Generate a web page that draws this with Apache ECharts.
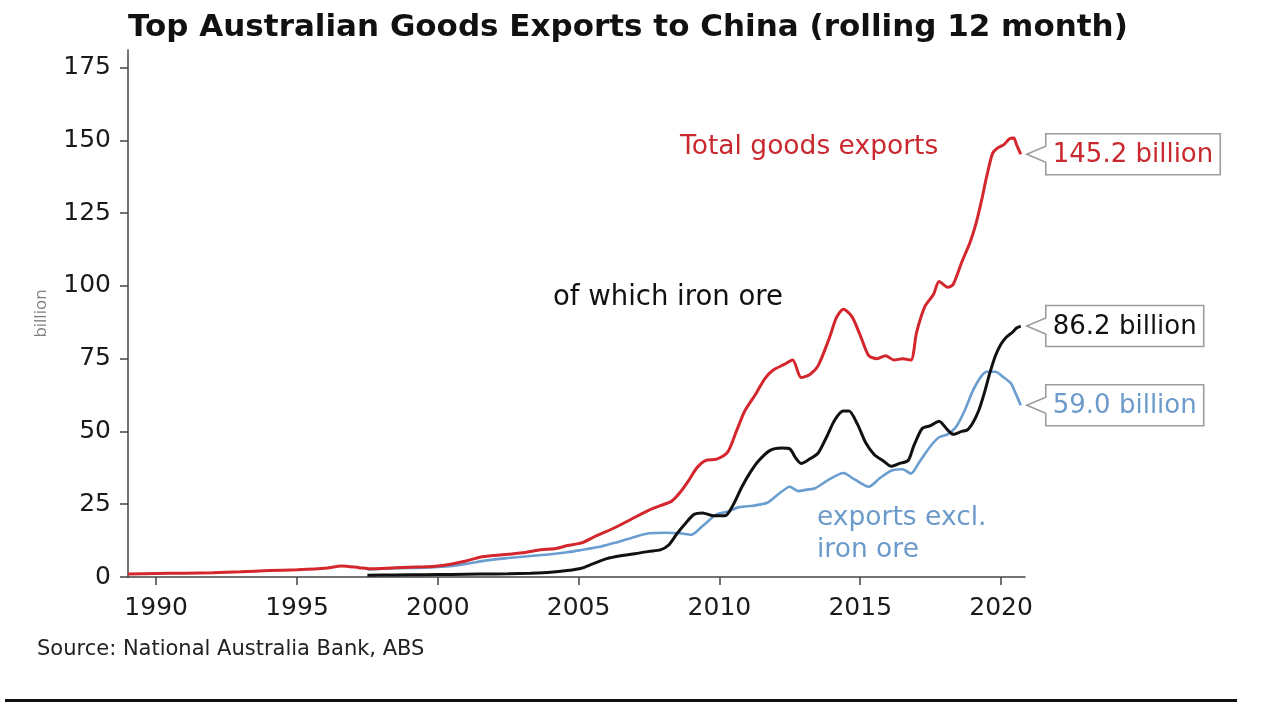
<!DOCTYPE html>
<html><head><meta charset="utf-8">
<script src="https://cdn.jsdelivr.net/npm/echarts@6/dist/echarts.min.js"></script>
<style>html,body{margin:0;padding:0;background:#fff}#c{width:1280px;height:720px}</style>
</head><body><div id="c"></div>
<script>
const titleText = 'Top Australian Goods Exports to China (rolling 12 month)';
const sourceText = 'Source: National Australia Bank, ABS';
const yTicks = [0, 25, 50, 75, 100, 125, 150, 175];
const xTicks = [1990, 1995, 2000, 2005, 2010, 2015, 2020];

const totalExports = [[1989.0,1.0],[1990.0,1.2],[1991.0,1.3],[1992.0,1.5],[1993.0,1.8],[1994.0,2.2],[1995.0,2.5],[1996.0,3.0],[1996.6,3.8],[1997.2,3.2],[1997.6,2.8],[1998.5,3.2],[1999.5,3.5],[2000.0,3.8],[2000.5,4.5],[2001.0,5.5],[2001.5,6.8],[2002.0,7.4],[2002.5,7.8],[2003.0,8.3],[2003.6,9.3],[2004.2,9.8],[2004.6,10.8],[2005.1,11.7],[2005.6,14.0],[2006.3,17.0],[2006.9,20.0],[2007.5,23.0],[2007.9,24.5],[2008.3,26.0],[2008.6,29.0],[2008.9,33.0],[2009.2,37.5],[2009.5,40.0],[2009.9,40.5],[2010.3,43.0],[2010.6,50.0],[2010.9,57.0],[2011.3,63.0],[2011.6,68.0],[2011.9,71.0],[2012.3,73.0],[2012.6,74.5],[2012.9,68.5],[2013.2,69.5],[2013.5,72.5],[2013.9,82.0],[2014.15,89.0],[2014.4,92.0],[2014.7,89.5],[2015.0,83.0],[2015.3,76.0],[2015.6,75.0],[2015.9,76.0],[2016.2,74.5],[2016.5,75.0],[2016.8,74.5],[2017.0,84.0],[2017.3,93.0],[2017.6,97.0],[2017.8,101.5],[2018.1,99.5],[2018.3,100.5],[2018.6,108.0],[2018.9,115.0],[2019.1,121.0],[2019.3,129.0],[2019.5,138.0],[2019.7,145.5],[2019.9,147.5],[2020.1,148.5],[2020.3,150.5],[2020.45,150.8],[2020.55,148.5],[2020.7,145.2]];

const ironOre = [[1997.5,0.6],[1998.5,0.7],[1999.5,0.8],[2000.5,0.9],[2001.5,1.0],[2002.5,1.1],[2003.3,1.3],[2004.0,1.6],[2004.6,2.2],[2005.1,3.0],[2005.5,4.5],[2006.0,6.3],[2006.5,7.3],[2007.0,8.0],[2007.5,8.8],[2007.9,9.3],[2008.2,11.0],[2008.5,15.0],[2008.8,18.5],[2009.1,21.5],[2009.4,22.0],[2009.8,21.0],[2010.2,21.0],[2010.5,25.0],[2010.8,31.0],[2011.1,36.0],[2011.4,40.0],[2011.8,43.5],[2012.2,44.3],[2012.5,44.0],[2012.7,41.0],[2012.9,39.0],[2013.2,40.5],[2013.5,42.5],[2013.8,48.0],[2014.1,54.0],[2014.4,57.0],[2014.6,57.0],[2014.9,52.5],[2015.2,46.0],[2015.5,42.0],[2015.8,40.0],[2016.1,38.0],[2016.4,39.0],[2016.7,40.0],[2016.9,45.0],[2017.2,51.0],[2017.5,52.0],[2017.8,53.5],[2018.1,50.5],[2018.3,49.0],[2018.6,50.0],[2018.8,50.5],[2019.0,53.0],[2019.2,57.0],[2019.4,63.0],[2019.6,70.0],[2019.8,76.0],[2020.0,80.0],[2020.2,82.5],[2020.4,84.0],[2020.55,85.5],[2020.7,86.2]];

const exclIronOre = [[1997.5,2.6],[1998.5,3.0],[1999.5,3.2],[2000.3,3.6],[2001.0,4.5],[2001.8,5.8],[2002.5,6.5],[2003.3,7.2],[2004.0,7.8],[2004.6,8.5],[2005.1,9.3],[2005.8,10.5],[2006.3,11.8],[2006.9,13.5],[2007.5,15.0],[2008.1,15.2],[2008.6,15.0],[2009.0,14.5],[2009.4,17.5],[2009.9,21.5],[2010.3,22.5],[2010.7,24.0],[2011.2,24.5],[2011.7,25.5],[2012.1,28.5],[2012.5,31.0],[2012.8,29.5],[2013.1,30.0],[2013.4,30.5],[2013.9,33.5],[2014.4,35.7],[2014.8,33.5],[2015.3,31.0],[2015.7,34.0],[2016.1,36.5],[2016.5,37.0],[2016.8,35.5],[2017.1,39.5],[2017.5,45.0],[2017.8,48.0],[2018.1,49.0],[2018.4,51.5],[2018.7,57.0],[2019.0,64.0],[2019.3,69.0],[2019.5,70.5],[2019.8,70.5],[2020.1,68.5],[2020.35,66.5],[2020.5,63.5],[2020.7,59.0]];

const seriesNames = ['Total goods exports', 'of which iron ore', 'exports excl.\niron ore'];
const endLabels = ['145.2 billion', '86.2 billion', '59.0 billion'];

const RED = '#d3262d', BLACK = '#111111', BLUE = '#6a9dd0';
const TXT_RED = '#c9282f', TXT_BLUE = '#6c9bcb';
const FONT = '"DejaVu Sans", sans-serif';

const chart = echarts.init(document.getElementById('c'), null, {renderer: 'canvas'});

const option = {
  backgroundColor: '#ffffff',
  animation: false,
  grid: {left: 128, right: 255, top: 50, bottom: 143},
  xAxis: {
    type: 'value', min: 1989, max: 2020.85,
    axisLine: {show: true, onZero: false, lineStyle: {color: '#444', width: 1.5}},
    axisTick: {show: true, customValues: xTicks, length: 8, lineStyle: {color: '#444', width: 1.5}},
    axisLabel: {customValues: xTicks, margin: 19, fontSize: 25, color: '#1a1a1a', fontFamily: FONT, formatter: v => String(Math.round(v))},
    splitLine: {show: false}
  },
  yAxis: {
    type: 'value', min: 0, max: 181, interval: 25,
    name: 'billion', nameLocation: 'middle', nameGap: 78, nameRotate: 90,
    nameTextStyle: {color: '#808080', fontSize: 17, fontFamily: '"Open Sans", sans-serif'},
    axisLine: {show: true, lineStyle: {color: '#444', width: 1.5}},
    axisTick: {show: true, length: 8, lineStyle: {color: '#444', width: 1.5}},
    axisLabel: {margin: 17, fontSize: 25, color: '#1a1a1a', fontFamily: FONT, showMaxLabel: false},
    splitLine: {show: false}
  },
  series: [
    {name: seriesNames[0], type: 'line', data: totalExports, showSymbol: false, smooth: 0.25, lineStyle: {color: RED, width: 3}, z: 3},
    {name: seriesNames[2], type: 'line', data: exclIronOre, showSymbol: false, smooth: 0.25, lineStyle: {color: BLUE, width: 2.6}, z: 2},
    {name: seriesNames[1], type: 'line', data: ironOre, showSymbol: false, smooth: 0.25, lineStyle: {color: BLACK, width: 3}, z: 4}
  ],
  graphic: []
};
chart.setOption(option);

function textWidth(t, size, fam) {
  const c = document.createElement('canvas').getContext('2d');
  c.font = size + 'px ' + fam;
  return c.measureText(t).width;
}

function callout(lastPt, label, color) {
  const p = chart.convertToPixel({gridIndex: 0}, lastPt);
  const tx = p[0] + 6, ty = p[1];
  const left = tx + 19, h = 41;
  const w = textWidth(label, 26, '"DejaVu Sans"') + 14;
  const top = ty - h / 2, bot = ty + h / 2;
  return {
    type: 'group', silent: true,
    children: [
      {type: 'polygon', shape: {points: [[tx, ty], [left, ty - 8], [left, top], [left + w, top], [left + w, bot], [left, bot], [left, ty + 8]]},
       style: {fill: '#fff', stroke: '#9c9c9c', lineWidth: 1.6}},
      {type: 'text', x: left + 7, y: ty + 1, style: {text: label, fill: color, fontSize: 26, fontFamily: FONT, verticalAlign: 'middle'}}
    ]
  };
}

const graphics = [
  {type: 'text', left: 128, top: 12, style: {text: titleText, fill: '#111', fontSize: 31, fontWeight: 'bold', fontFamily: FONT}},
  {type: 'text', left: 680, top: 134, style: {text: seriesNames[0], fill: TXT_RED, fontSize: 26.5, fontFamily: FONT}},
  {type: 'text', left: 553, top: 284, style: {text: seriesNames[1], fill: BLACK, fontSize: 27.5, fontFamily: FONT}},
  {type: 'text', left: 817, top: 502, style: {text: seriesNames[2], fill: TXT_BLUE, fontSize: 26.5, lineHeight: 32, fontFamily: FONT}},
  {type: 'text', left: 37, top: 639, style: {text: sourceText, fill: '#222', fontSize: 21, fontFamily: FONT}},
  {type: 'rect', shape: {x: 5, y: 699, width: 1232, height: 3}, style: {fill: '#111'}},
  callout(totalExports[totalExports.length - 1], endLabels[0], TXT_RED),
  callout(ironOre[ironOre.length - 1], endLabels[1], BLACK),
  callout(exclIronOre[exclIronOre.length - 1], endLabels[2], TXT_BLUE)
];
chart.setOption({graphic: graphics});
</script>
</body></html>
